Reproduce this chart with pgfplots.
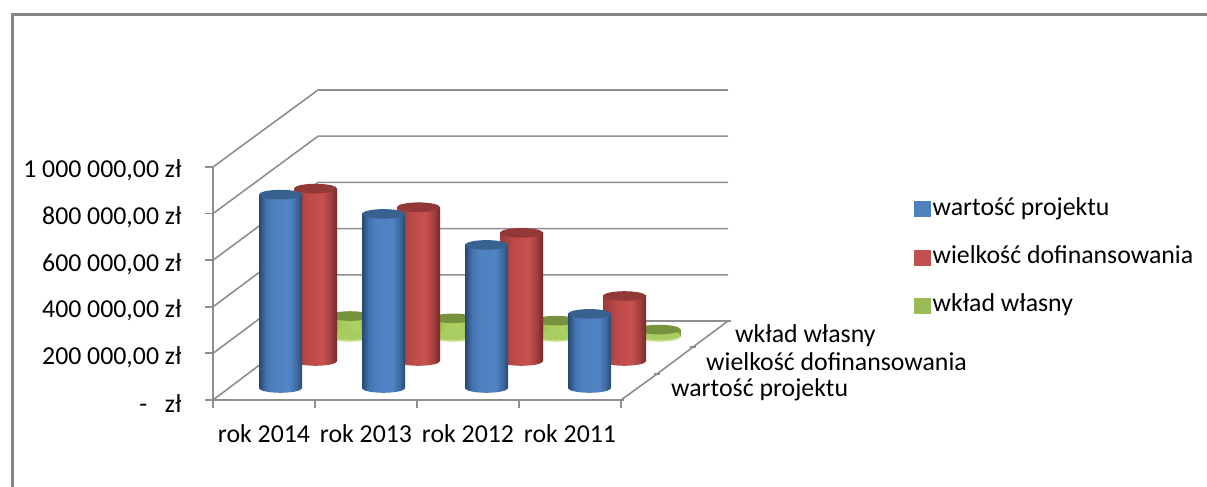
\documentclass[border=0pt]{standalone}
\usepackage{fontspec}
\setmainfont{Carlito}
\usepackage{pgfplots}
\usepackage{pgfplotstable}
\pgfplotsset{compat=1.18}

\definecolor{gridgray}{HTML}{8E8E8E}
\definecolor{framegray}{HTML}{868686}
\definecolor{legblue}{HTML}{4F81BD}
\definecolor{legred}{HTML}{C0504D}
\definecolor{leggreen}{HTML}{9BBB59}
\definecolor{capblue}{HTML}{37628F}
\definecolor{capred}{HTML}{923836}
\definecolor{capgreen}{HTML}{76923C}
\definecolor{basegreen}{HTML}{CDE196}
\definecolor{bodygreen}{HTML}{A8CC5F}

% cylinder bodies, only 25bp to 75bp is visible
\pgfdeclarehorizontalshading{cylblue}{100bp}{
  rgb(0bp)=(0.15,0.28,0.43); rgb(25bp)=(0.15,0.28,0.43);
  rgb(33bp)=(0.27,0.45,0.69); rgb(42bp)=(0.31,0.50,0.75);
  rgb(60bp)=(0.32,0.52,0.78); rgb(69bp)=(0.24,0.41,0.62);
  rgb(75bp)=(0.16,0.29,0.44); rgb(100bp)=(0.16,0.29,0.44)}
\pgfdeclarehorizontalshading{cylred}{100bp}{
  rgb(0bp)=(0.59,0.24,0.23); rgb(25bp)=(0.59,0.24,0.23);
  rgb(40bp)=(0.73,0.29,0.28); rgb(58bp)=(0.78,0.32,0.31);
  rgb(68bp)=(0.63,0.24,0.24); rgb(75bp)=(0.45,0.16,0.16);
  rgb(100bp)=(0.45,0.16,0.16)}
\pgfdeclarehorizontalshading{cylgreen}{100bp}{
  rgb(0bp)=(0.51,0.63,0.28); rgb(25bp)=(0.51,0.63,0.28);
  rgb(40bp)=(0.66,0.80,0.37); rgb(60bp)=(0.67,0.82,0.38);
  rgb(75bp)=(0.49,0.59,0.25); rgb(100bp)=(0.49,0.59,0.25)}

\newcommand{\capellipse}{\pgfpathellipse{\pgfpointorigin}{\pgfqpoint{21.5pt}{0pt}}{\pgfqpoint{0pt}{4.8pt}}}
\pgfdeclareplotmark{capblue}{\capellipse\pgfsetfillcolor{capblue}\pgfusepathqfill}
\pgfdeclareplotmark{capred}{\capellipse\pgfsetfillcolor{capred}\pgfusepathqfill}
\pgfdeclareplotmark{capgreen}{\capellipse\pgfsetfillcolor{capgreen}\pgfusepathqfill}
\pgfdeclareplotmark{basegreen}{\capellipse\pgfsetfillcolor{basegreen}\pgfusepathqfill
  \pgfpathellipse{\pgfqpoint{0pt}{1.8pt}}{\pgfqpoint{21.5pt}{0pt}}{\pgfqpoint{0pt}{4.8pt}}\pgfsetfillcolor{bodygreen}\pgfusepathqfill}
\pgfdeclareplotmark{baseblue}{\path[shade,shading=cylblue,draw=none] (0pt,0pt) ellipse (21.5pt and 4.8pt);}
\pgfdeclareplotmark{basered}{\path[shade,shading=cylred,draw=none] (0pt,0pt) ellipse (21.5pt and 4.8pt);}

\pgfplotstableread{
i wartosc dofin wklad zero
0 830000 740000 90000 0
1 747000 660000 80000 0
2 614000 550000 70000 0
3 318000 279000 32000 0
}\dane

\pgfplotsset{
  cylaxis/.style={
    scale only axis, width=412pt, height=233pt,
    xmin=-0.5, xmax=3.5, ymin=0, ymax=1000000,
    hide axis, clip=false, anchor=south west},
  cylbody/.style={ybar, bar width=43pt, bar shift=0pt, draw=none, shade, shading=#1},
}

\begin{document}
\begin{tikzpicture}
\useasboundingbox (0,0) rectangle (1207pt,487pt);
\draw[framegray, line width=3pt] (12pt,0pt) -- (12pt,472pt) -- (1207pt,472pt);

% walls and floor, in pixels of the picture
\begin{axis}[scale only axis, width=1207pt, height=487pt, at={(0,0)}, anchor=south west,
  xmin=0, xmax=1207, ymin=0, ymax=487, y dir=reverse, hide axis, clip=false]
\pgfplotsinvokeforeach{0,1,2,3,4,5}{
  \addplot[gridgray, line width=1.6pt] coordinates {(213,{400-46.6*#1}) (318,{321-46.2*#1}) (728,{321-46.2*#1})};
}
\addplot[gridgray, line width=1.6pt, mark=-, mark size=3pt, mark options={solid}]
  coordinates {(621,400) (657,374) (693,347) (728,321)};
\end{axis}

% front axis with the scale
\begin{axis}[scale only axis, width=408pt, height=233pt, at={(213pt,87pt)}, anchor=south west,
  axis x line=bottom, axis y line=left, axis line style={-, gridgray, line width=1.8pt},
  xmin=-0.5, xmax=3.5, ymin=0, ymax=1000000, scaled y ticks=false,
  xtick={0,1,2,3}, xticklabels={rok 2014,rok 2013,rok 2012,rok 2011},
  minor xtick={-0.5,0.5,1.5,2.5,3.5},
  ytick={0,200000,400000,600000,800000,1000000},
  yticklabels={{-~~~zł},{200~000,00 zł},{400~000,00 zł},{600~000,00 zł},{800~000,00 zł},{1~000~000,00 zł}},
  tick align=outside, major tick length=8pt, minor tick length=8pt,
  major x tick style={draw=none}, minor x tick style={gridgray, line width=1.8pt},
  major y tick style={gridgray, line width=1.8pt},
  xticklabel style={font=\fontsize{25.8}{30}\selectfont, yshift=-13pt},
  yticklabel style={font=\fontsize{25.8}{30}\selectfont, xshift=-20pt, yshift=-3.5pt},
  legend style={draw=none, fill=none, at={(698pt,208pt)}, anchor=north west,
    font=\fontsize{25.8}{30}\selectfont, row sep=18.2pt, cells={anchor=west},
    nodes={text height=19pt, text depth=7pt}},
  legend image code/.code={\fill[#1] (-4pt,-7.5pt) rectangle (12pt,7.5pt);},
  clip=false]
\addlegendimage{legblue}
\addlegendentry{wartość projektu}
\addlegendimage{legred}
\addlegendentry{wielkość dofinansowania}
\addlegendimage{leggreen}
\addlegendentry{wkład własny}
\end{axis}

% back row first, one plot per bar so that each cylinder gets its own shading
\begin{axis}[cylaxis, at={(298.5pt,150pt)}]
\addplot[only marks, mark=basegreen] table[x=i,y=zero] {\dane};
\pgfplotsinvokeforeach{0,1,2,3}{
  \addplot[cylbody=cylgreen, restrict x to domain=#1:#1] table[x=i,y=wklad] {\dane};
}
\addplot[only marks, mark=capgreen] table[x=i,y=wklad] {\dane};
\end{axis}
\begin{axis}[cylaxis, at={(264pt,126pt)}]
\addplot[only marks, mark=basered, mark options={draw=none}] table[x=i,y=zero] {\dane};
\pgfplotsinvokeforeach{0,1,2,3}{
  \addplot[cylbody=cylred, restrict x to domain=#1:#1] table[x=i,y=dofin] {\dane};
}
\addplot[only marks, mark=capred] table[x=i,y=dofin] {\dane};
\end{axis}
\begin{axis}[cylaxis, at={(229pt,99pt)}]
\addplot[only marks, mark=baseblue, mark options={draw=none}] table[x=i,y=zero] {\dane};
\pgfplotsinvokeforeach{0,1,2,3}{
  \addplot[cylbody=cylblue, restrict x to domain=#1:#1] table[x=i,y=wartosc] {\dane};
}
\addplot[only marks, mark=capblue] table[x=i,y=wartosc] {\dane};
\end{axis}

% depth axis labels
\begin{axis}[scale only axis, width=1207pt, height=487pt, at={(0,0)}, anchor=south west,
  xmin=0, xmax=1207, ymin=0, ymax=487, y dir=reverse, hide axis, clip=false]
\node[anchor=west, inner sep=0pt, font=\fontsize{25.8}{30}\selectfont] at (axis cs:735,336) {wkład własny};
\node[anchor=west, inner sep=0pt, font=\fontsize{25.8}{30}\selectfont] at (axis cs:706,362) {wielkość dofinansowania};
\node[anchor=west, inner sep=0pt, font=\fontsize{25.8}{30}\selectfont] at (axis cs:671,390) {wartość projektu};
\end{axis}
\end{tikzpicture}
\end{document}
